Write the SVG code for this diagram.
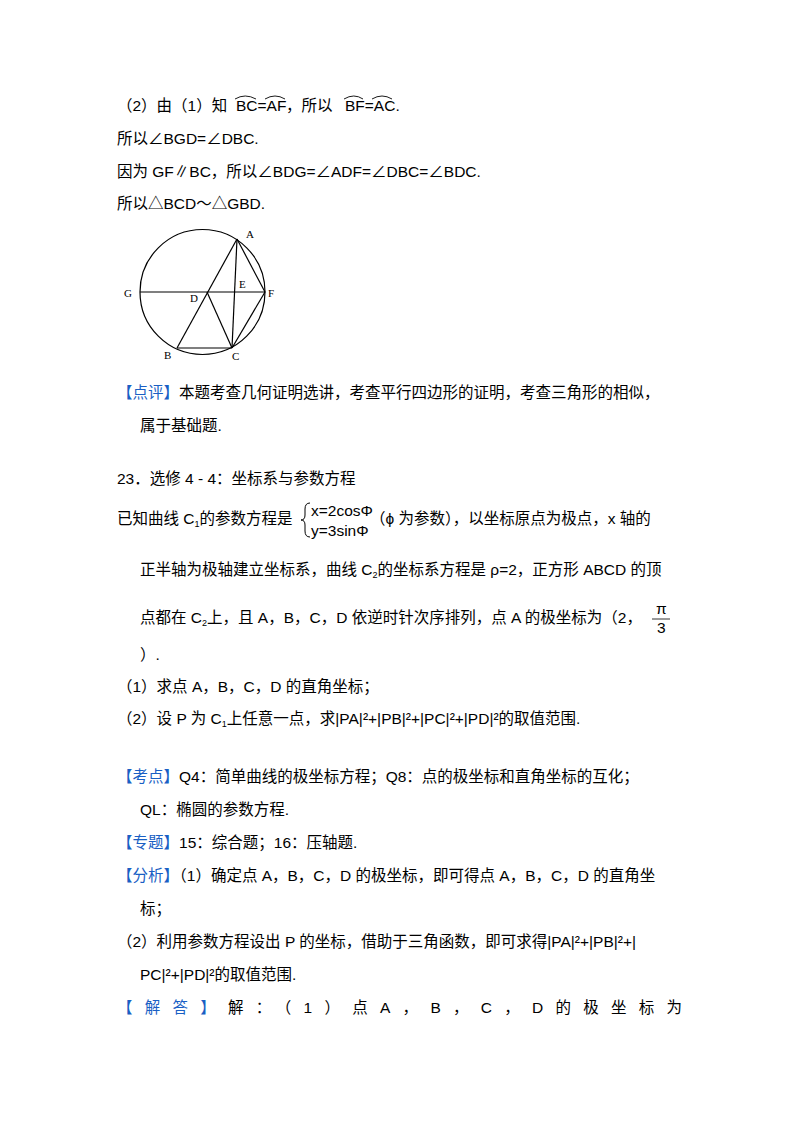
<svg xmlns="http://www.w3.org/2000/svg" width="800" height="1132" viewBox="0 0 800 1132">
<style>
text{font-family:"Liberation Sans","Noto Sans CJK SC",sans-serif;font-size:15.5px;fill:#000}
.b{fill:#1a5fc4}
.s{font-family:"Liberation Serif",serif;font-size:11px}
.f line,.f circle{stroke:#000;stroke-width:1.2;fill:none}
</style>
<rect width="800" height="1132" fill="#fff"/>
<text x="117" y="111">（2）由（1）知</text>
<text x="236" y="111" font-family="Liberation Serif">BC=AF</text>
<text x="286" y="111">，所以</text>
<text x="345" y="111" font-family="Liberation Serif">BF=AC.</text>
<g fill="none" stroke="#000" stroke-width="0.9">
<path d="M235 99 Q245 93 256 99"/><path d="M265 99 Q275 93 285 99"/><path d="M344 99 Q354 93 363 99"/><path d="M372 99 Q382 93 392 99"/>
</g>
<text x="117" y="144">所以∠BGD=∠DBC.</text>
<text x="117" y="177">因为 GF∥BC，所以∠BDG=∠ADF=∠DBC=∠BDC.</text>
<text x="117" y="209">所以△BCD～△GBD.</text>
<g class="f">
<circle cx="202.5" cy="292" r="62.5"/>
<line x1="140" y1="292" x2="265" y2="292"/>
<line x1="237" y1="239" x2="177" y2="348"/>
<line x1="237" y1="239" x2="232" y2="348"/>
<line x1="237" y1="239" x2="265" y2="292"/>
<line x1="207" y1="292" x2="232" y2="348"/>
<line x1="177" y1="348" x2="232" y2="348"/>
<line x1="232" y1="348" x2="265" y2="292"/>
</g>
<text class="s" x="124" y="297">G</text><text class="s" x="268" y="297">F</text>
<text class="s" x="190" y="302">D</text><text class="s" x="239" y="288">E</text>
<text class="s" x="246" y="238">A</text><text class="s" x="164" y="359">B</text>
<text class="s" x="232" y="360">C</text>
<text x="117" y="398"><tspan class="b">【点评】</tspan>本题考查几何证明选讲，考查平行四边形的证明，考查三角形的相似，</text>
<text x="140" y="431">属于基础题.</text>
<text x="117" y="484">23．选修 4 - 4：坐标系与参数方程</text>
<text x="117" y="524">已知曲线 C<tspan font-size="9" dy="3">1</tspan><tspan dy="-3">的参数方程是</tspan></text>
<path d="M310 503 Q305 503 305 509 L305 515 Q305 520 301 520 Q305 520 305 525 L305 531 Q305 537 310 537" fill="none" stroke="#000" stroke-width="1"/>
<text x="311" y="516" font-family="Liberation Serif" font-size="13">x=2cosΦ</text>
<text x="311" y="536" font-family="Liberation Serif" font-size="13">y=3sinΦ</text>
<text x="370" y="524">（ϕ 为参数），以坐标原点为极点，x 轴的</text>
<text x="140" y="575">正半轴为极轴建立坐标系，曲线 C<tspan font-size="9" dy="3">2</tspan><tspan dy="-3">的坐标系方程是 ρ=2，正方形 ABCD 的顶</tspan></text>
<text x="140" y="623">点都在 C<tspan font-size="9" dy="3">2</tspan><tspan dy="-3">上，且 A，B，C，D 依逆时针次序排列，点 A 的极坐标为（2，</tspan></text>
<text x="656" y="614" font-family="Liberation Serif" font-size="14">π</text>
<line x1="652" y1="619" x2="670" y2="619" stroke="#000" stroke-width="0.8"/>
<text x="657" y="633" font-family="Liberation Serif" font-size="13">3</text>
<text x="140" y="660">）.</text>
<text x="117" y="692">（1）求点 A，B，C，D 的直角坐标；</text>
<text x="117" y="724">（2）设 P 为 C<tspan font-size="9" dy="3">1</tspan><tspan dy="-3">上任意一点，求|PA|²+|PB|²+|PC|²+|PD|²的取值范围.</tspan></text>
<text x="117" y="782"><tspan class="b">【考点】</tspan>Q4：简单曲线的极坐标方程；Q8：点的极坐标和直角坐标的互化；</text>
<text x="140" y="815">QL：椭圆的参数方程.</text>
<text x="117" y="848"><tspan class="b">【专题】</tspan>15：综合题；16：压轴题.</text>
<text x="117" y="881"><tspan class="b">【分析】</tspan>（1）确定点 A，B，C，D 的极坐标，即可得点 A，B，C，D 的直角坐</text>
<text x="140" y="914">标；</text>
<text x="117" y="947">（2）利用参数方程设出 P 的坐标，借助于三角函数，即可求得|PA|²+|PB|²+|</text>
<text x="140" y="980">PC|²+|PD|²的取值范围.</text>
<text x="117" y="1013" textLength="565" lengthAdjust="spacing"><tspan class="b">【解答】</tspan>解：（1）点A，B，C，D的极坐标为</text>
</svg>
